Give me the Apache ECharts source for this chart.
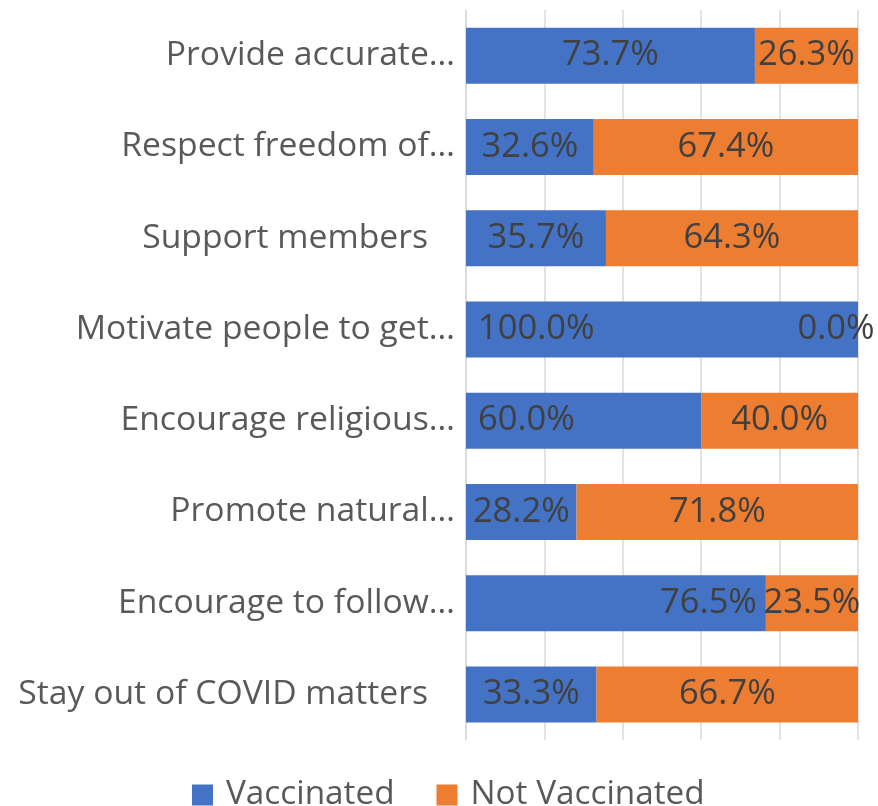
<!DOCTYPE html>
<html>
<head>
<meta charset="utf-8">
<script src="https://cdn.jsdelivr.net/npm/echarts@6/dist/echarts.min.js"></script>
<style>
html,body{margin:0;padding:0;background:#fff;}
#chart{width:878px;height:806px;}
</style>
</head>
<body>
<div id="chart"></div>
<script>
const categories = [
  'Provide accurate…',
  'Respect freedom of…',
  'Support members',
  'Motivate people to get…',
  'Encourage religious…',
  'Promote natural…',
  'Encourage to follow…',
  'Stay out of COVID matters'
];
const vaccinated = [73.7, 32.6, 35.7, 100.0, 60.0, 28.2, 76.5, 33.3];
const notVaccinated = [26.3, 67.4, 64.3, 0.0, 40.0, 71.8, 23.5, 66.7];
const xTicks = [0, 20, 40, 60, 80, 100];

// label placement (style only), keyed by category index
const vaccLabelStyle = {
  3: { position: 'insideLeft', distance: 12 },
  4: { position: 'insideLeft', distance: 12 },
  6: { position: 'insideRight', distance: 9 }
};
const notVaccLabelStyle = {
  3: { position: 'inside', offset: [-22, 0] }
};

const labelFont = { fontFamily: 'Open Sans', fontSize: 34.5, color: '#404040' };

function buildData(values, styles) {
  return values.map((v, i) => styles[i] ? { value: v, label: styles[i] } : v);
}

const chart = echarts.init(document.getElementById('chart'));
chart.setOption({
  animation: false,
  textStyle: { fontFamily: 'Open Sans' },
  grid: { left: 466, right: 20, top: 10, bottom: 66, containLabel: false },
  legend: {
    left: 187,
    top: 771,
    itemWidth: 21,
    itemHeight: 21,
    itemGap: 42,
    icon: 'rect',
    textStyle: { fontFamily: 'Open Sans', fontSize: 33.3, color: '#595959', padding: [0, 0, 0, 8], lineHeight: 38 },
    data: ['Vaccinated', 'Not Vaccinated']
  },
  xAxis: {
    type: 'value',
    min: xTicks[0],
    max: xTicks[xTicks.length - 1],
    interval: xTicks[1] - xTicks[0],
    axisLabel: { show: false },
    axisLine: { show: false },
    axisTick: { show: false },
    splitLine: { show: true, lineStyle: { color: '#d9d9d9', width: 1.5 } }
  },
  yAxis: {
    type: 'category',
    inverse: true,
    data: categories,
    axisLine: { show: true, lineStyle: { color: '#d9d9d9', width: 1.5 } },
    axisTick: { show: false },
    axisLabel: {
      margin: 11,
      formatter: function (v) {
        return v.endsWith('…') ? '{a|' + v + '}' : '{b|' + v + '}';
      },
      rich: {
        a: { fontFamily: 'Open Sans', fontSize: 33.7, color: '#595959' },
        b: { fontFamily: 'Open Sans', fontSize: 33.7, color: '#595959', padding: [0, 27, 0, 0] }
      }
    }
  },
  series: [
    {
      name: 'Vaccinated',
      type: 'bar',
      stack: 'total',
      barWidth: 56,
      itemStyle: { color: '#4472C4' },
      label: Object.assign({ show: true, position: 'inside', formatter: p => p.value.toFixed(1) + '%' }, labelFont),
      data: buildData(vaccinated, vaccLabelStyle)
    },
    {
      name: 'Not Vaccinated',
      type: 'bar',
      stack: 'total',
      barWidth: 56,
      itemStyle: { color: '#ED7D31' },
      label: Object.assign({ show: true, position: 'inside', formatter: p => p.value.toFixed(1) + '%' }, labelFont),
      data: buildData(notVaccinated, notVaccLabelStyle)
    }
  ]
});
</script>
</body>
</html>
